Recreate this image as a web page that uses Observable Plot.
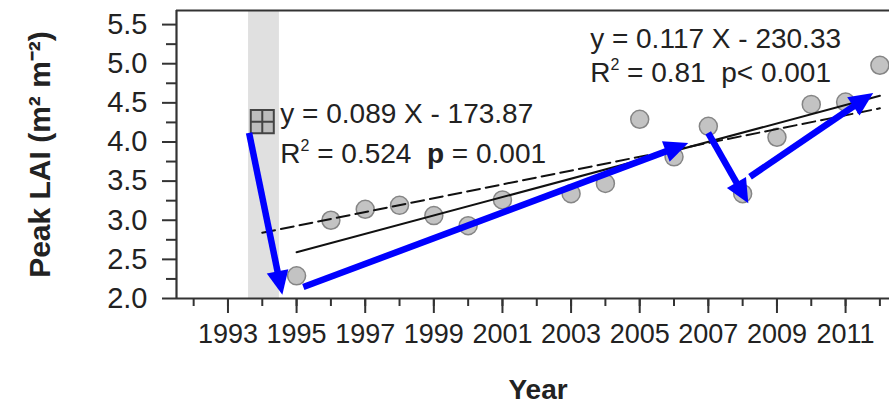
<!DOCTYPE html>
<html><head><meta charset="utf-8">
<script src="https://cdn.jsdelivr.net/npm/d3@7"></script>
<script src="https://cdn.jsdelivr.net/npm/@observablehq/plot@0.6"></script>
<style>body{margin:0;background:#fff;} #chart svg{display:block;}</style>
</head><body><div id="chart"></div>
<script>
// observed peak LAI
const years = [1995,1996,1997,1998,1999,2000,2001,2003,2004,2005,2006,2007,2008,2009,2010,2011,2012];
const lai   = [2.29,3.00,3.14,3.19,3.06,2.93,3.26,3.34,3.47,4.29,3.81,4.20,3.34,4.06,4.48,4.51,4.98];

// fitted trend lines (end points)
const solidYears = [1995, 2012];
const solidLai   = [2.59, 4.59];
const dashYears  = [1994, 2012];
const dashLai    = [2.84, 4.43];

// shaded band and marker
const bandYears = [1993.6, 1994.5];
const markerYear = [1994.0];
const markerLai  = [4.26];

// axis ticks
const yMajorTicks = [2.0,2.5,3.0,3.5,4.0,4.5,5.0,5.5];
const yMinorTicks = [2.25,2.75,3.25,3.75,4.25,4.75,5.25];
const xLabelTicks = [1993,1995,1997,1999,2001,2003,2005,2007,2009,2011];
const xAllTicks   = [1992,1993,1994,1995,1996,1997,1998,1999,2000,2001,2002,2003,2004,2005,2006,2007,2008,2009,2010,2011,2012];

// annotation texts
const annoX = [1994.54, 1994.54, 2003.57, 2003.57];
const annoY = [4.36, 3.85, 5.32, 4.89];
const annoParts = [
  [{t:"y = 0.089 X - 173.87"}],
  [{t:"R"},{t:"2",sup:true},{t:" = 0.524  "},{t:"p",bold:true},{t:" = 0.001"}],
  [{t:"y = 0.117 X - 230.33"}],
  [{t:"R"},{t:"2",sup:true},{t:" = 0.81  p< 0.001"}]
];

// blue arrows
const arrowX1 = [1993.63, 1995.21, 2007.01, 2008.23];
const arrowY1 = [4.11, 2.14, 4.11, 3.55];
const arrowX2 = [1994.60, 2006.43, 2008.18, 2011.82];
const arrowY2 = [2.04, 3.98, 3.21, 4.62];

const xDomain = [1991.5, 2012.28];
const yDomain = [2.0, 5.68];
const FONT = "'Liberation Sans', Arial, Helvetica, sans-serif";

const pts = years.map((y,i)=>({year:y, lai:lai[i]}));
const solid = solidYears.map((y,i)=>({year:y, lai:solidLai[i]}));
const dashed = dashYears.map((y,i)=>({year:y, lai:dashLai[i]}));
const marker = markerYear.map((y,i)=>({year:y, lai:markerLai[i]}));

function annotations(index, scales) {
  const g = d3.create("svg:g").attr("font-family", FONT).attr("font-size", 28)
    .attr("fill", "#222").attr("text-anchor", "start");
  annoParts.forEach((parts, i) => {
    const t = g.append("text").attr("x", scales.x(annoX[i])).attr("y", scales.y(annoY[i]))
      .attr("dy", "0.35em").attr("text-anchor", "start").style("white-space", "pre");
    parts.forEach(p => {
      const s = t.append("tspan").text(p.t);
      if (p.bold) s.attr("font-weight", "bold");
      if (p.sup) s.attr("font-size", 16).attr("baseline-shift", "75%");
    });
  });
  return g.node();
}

function arrows(index, scales) {
  const g = d3.create("svg:g");
  for (let i = 0; i < arrowX1.length; i++) {
    const x1 = scales.x(arrowX1[i]), y1 = scales.y(arrowY1[i]);
    const x2 = scales.x(arrowX2[i]), y2 = scales.y(arrowY2[i]);
    const dx = x2 - x1, dy = y2 - y1, L = Math.hypot(dx, dy), ux = dx / L, uy = dy / L;
    const hl = 24, hw = 11;
    const bx = x2 - ux * hl, by = y2 - uy * hl;
    g.append("line").attr("x1", x1).attr("y1", y1).attr("x2", bx + ux * 3).attr("y2", by + uy * 3)
      .attr("stroke", "#0000ff").attr("stroke-width", 6.5);
    g.append("path").attr("d", `M${x2},${y2}L${bx - uy * hw},${by + ux * hw}L${bx + uy * hw},${by - ux * hw}Z`)
      .attr("fill", "#0000ff");
  }
  return g.node();
}

const axisStyle = {stroke: "#333", strokeWidth: 2};

const chart = Plot.plot({
  width: 889,
  height: 406,
  marginLeft: 176,
  marginRight: 0,
  marginTop: 10,
  marginBottom: 108,
  style: {fontFamily: FONT, color: "#222", background: "#fff", overflow: "visible"},
  x: {domain: xDomain, axis: null},
  y: {domain: yDomain, axis: null},
  marks: [
    Plot.rect([bandYears], {x1: d => d[0], x2: d => d[1], y1: yDomain[0], y2: yDomain[1], fill: "#e0e0e0"}),
    Plot.axisY({ticks: yMajorTicks, tickSize: 14, text: null, label: null, ...axisStyle}),
    Plot.axisY({ticks: yMinorTicks, tickSize: 10, text: null, label: null, ...axisStyle}),
    Plot.axisX({ticks: xLabelTicks, tickSize: 15, text: null, label: null, ...axisStyle}),
    Plot.axisX({ticks: xAllTicks, tickSize: 8, text: null, label: null, ...axisStyle}),
    Plot.text(yMajorTicks, {y: d => d, text: d => d.toFixed(1), frameAnchor: "left", dx: -29, textAnchor: "end", lineAnchor: "middle", fontSize: 29, fill: "#222"}),
    Plot.text(xLabelTicks, {x: d => d, text: d => String(d), frameAnchor: "bottom", dy: 36, textAnchor: "middle", lineAnchor: "middle", fontSize: 27, fill: "#222"}),
    Plot.ruleY(yDomain, {stroke: "#333", strokeWidth: 2.2}),
    Plot.ruleX([xDomain[0]], {stroke: "#333", strokeWidth: 2.2}),
    Plot.dot(pts, {x: "year", y: "lai", r: 9, fill: "#c3c3c3", stroke: "#858585", strokeWidth: 1.5}),
    Plot.line(dashed, {x: "year", y: "lai", stroke: "#111", strokeWidth: 2, strokeDasharray: "13,6"}),
    Plot.line(solid, {x: "year", y: "lai", stroke: "#111", strokeWidth: 2}),
    Plot.dot(marker, {x: "year", y: "lai", symbol: "square", r: 13, fill: "#bdbdbd", stroke: "#444", strokeWidth: 2}),
    Plot.dot(marker, {x: "year", y: "lai", symbol: "plus", r: 7.4, stroke: "#444", strokeWidth: 2}),
    annotations,
    arrows,
    Plot.text(["Peak LAI (m² m⁻²)"], {frameAnchor: "left", dx: -136, rotate: -90, fontSize: 30, fontWeight: "bold", fill: "#222", textAnchor: "middle", lineAnchor: "middle"}),
    Plot.text(["Year"], {frameAnchor: "bottom", dx: 5, dy: 92, fontSize: 28, fontWeight: "bold", fill: "#222", textAnchor: "middle", lineAnchor: "middle"})
  ]
});
document.getElementById("chart").appendChild(chart);
</script>
</body></html>
